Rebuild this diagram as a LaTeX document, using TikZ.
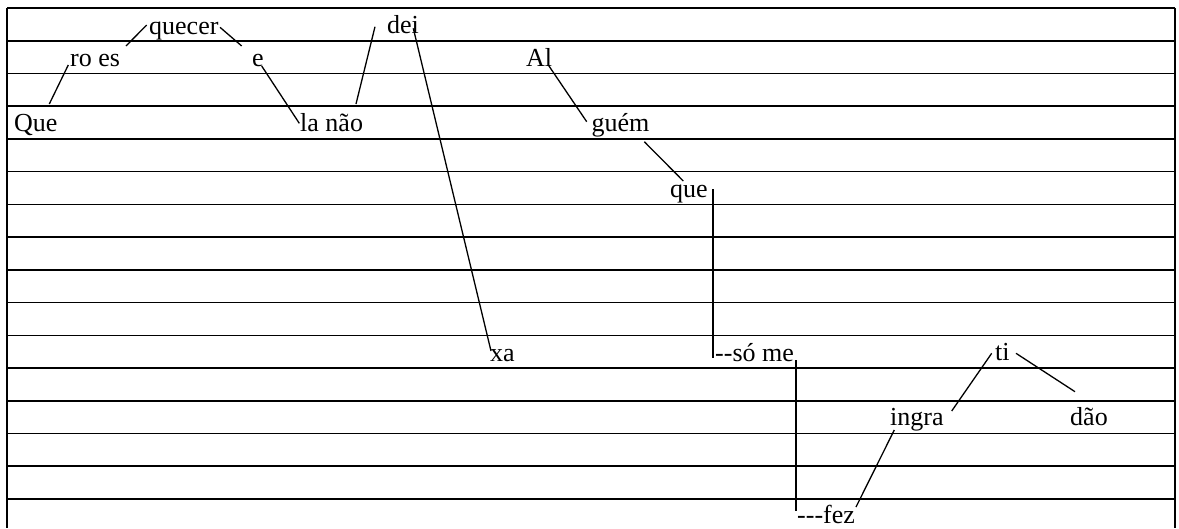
\documentclass[tikz,border=0pt]{standalone}
\usepackage{fontspec}
\setmainfont{Liberation Serif}
\begin{document}
\begin{tikzpicture}[x=1pt,y=-1pt,
  word/.style={anchor=base west,inner sep=0pt,font=\fontsize{26}{30}\selectfont},
  rule/.style={line width=1.6pt},
  border/.style={line width=2pt},
  link/.style={line width=1.3pt}]
\useasboundingbox (0,0) rectangle (1179,528);
% ruled lines
\foreach \k in {0,...,15}{
  \draw[rule] (7,{8+\k*32.73}) -- (1175,{8+\k*32.73});
}
\draw[border] (7,8) -- (7,528);
\draw[rule] (1175,8) -- (1175,528);
% words
\node[word] (que1) at (14,131) {Que};
\node[word] (roes) at (70,66) {ro es};
\node[word] (quecer) at (149,34) {quecer};
\node[word] (e) at (252,66) {e};
\node[word] (lanao) at (300,131) {la não};
\node[word] (dei) at (387,33) {dei};
\node[word] (xa) at (490,361) {xa};
\node[word] (al) at (526,66.5) {Al};
\node[word] (guem) at (591.5,131.5) {guém};
\node[word] (que2) at (670,197) {que};
\node[word] (some) at (715,361) {-\kern0pt-só me};
\node[word] (fez) at (797,523) {-\kern0pt-\kern0pt-fez};
\node[word] (ingra) at (890,425) {ingra};
\node[word] (ti) at (995,360) {ti};
\node[word] (dao) at (1070,425) {dão};
% connector end points
\coordinate (a1) at (49.3,104);   \coordinate (b1) at (68.3,65);
\coordinate (a2) at (126,46);     \coordinate (b2) at (146.7,25);
\coordinate (a3) at (220,27.3);   \coordinate (b3) at (241.7,46);
\coordinate (a4) at (261.7,66);   \coordinate (b4) at (299.3,123.3);
\coordinate (a5) at (356,104);    \coordinate (b5) at (375,26.7);
\coordinate (a6) at (413.3,28.3); \coordinate (b6) at (491,351);
\coordinate (a7) at (548.3,65);   \coordinate (b7) at (586.7,121.7);
\coordinate (a8) at (644.3,141.7);\coordinate (b8) at (683.3,181);
\coordinate (a9) at (713,189);    \coordinate (b9) at (713,358);
\coordinate (a10) at (796,360);   \coordinate (b10) at (796,511);
\coordinate (a11) at (856,507);   \coordinate (b11) at (894.3,430);
\coordinate (a12) at (951.7,411); \coordinate (b12) at (991.7,353.3);
\coordinate (a13) at (1016,353.3);\coordinate (b13) at (1075,391.7);
\foreach \i in {1,...,13}{
  \draw[link] (a\i) -- (b\i);
}
\end{tikzpicture}
\end{document}
